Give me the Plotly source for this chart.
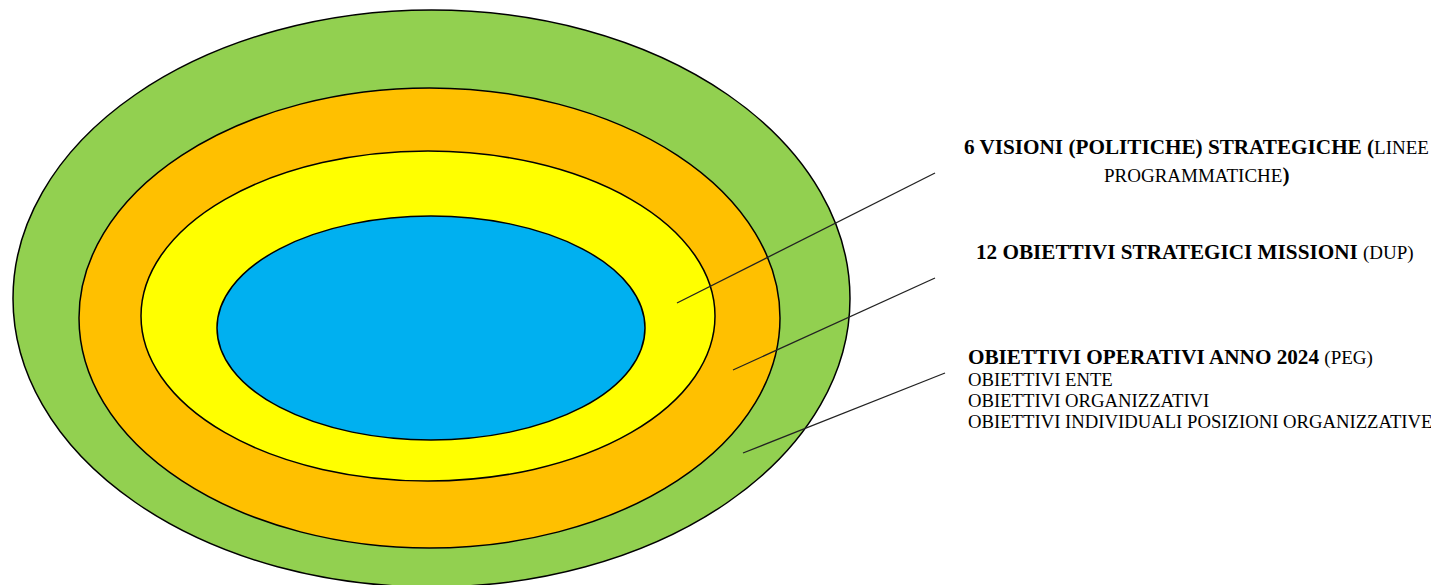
import plotly.graph_objects as go

# Ellipse layers (outer to inner): name, fill colour, bounding box in diagram units
layer_names = ["Visioni strategiche", "Obiettivi strategici", "Obiettivi operativi", "Nucleo"]
layer_colors = ["#92D050", "#FFC000", "#FFFF00", "#00B0F0"]
layer_x0 = [13, 79, 141, 217]
layer_x1 = [850, 780, 715, 645]
layer_y0 = [10, 88, 151, 216]
layer_y1 = [587, 548, 481, 440]

# Leader lines (start inside ellipse, end near label)
line_x0 = [677, 733, 743]
line_y0 = [303, 370, 453]
line_x1 = [935, 935, 945]
line_y1 = [173, 278, 373]

# Labels
label_texts = [
    "<b>6 VISIONI (POLITICHE) STRATEGICHE (</b><span style='font-size:19px'>LINEE</span>",
    "<span style='font-size:19px'>PROGRAMMATICHE</span><b>)</b>",
    "<b>12 OBIETTIVI STRATEGICI MISSIONI</b> <span style='font-size:19px'>(DUP)</span>",
    "<b>OBIETTIVI OPERATIVI ANNO 2024</b> <span style='font-size:19px'>(PEG)</span>",
    "OBIETTIVI ENTE",
    "OBIETTIVI ORGANIZZATIVI",
    "OBIETTIVI INDIVIDUALI POSIZIONI ORGANIZZATIVE",
]
label_x = [1196, 1196, 1195, 966, 966, 966, 966]
label_y = [147, 175, 252, 357, 379, 400, 421]
label_anchor = ["center", "center", "center", "left", "left", "left", "left"]
label_size = [21.2, 21.2, 21.2, 21.2, 18.7, 18.7, 18.7]

# page body has an 8px margin: shift the visible window to compensate
PAGE_OFFSET = 8
W, H = 1439, 585

fig = go.Figure()
fig.add_trace(go.Scatter(x=[0, W], y=[0, H], mode="markers",
                         marker=dict(opacity=0), hoverinfo="skip", showlegend=False))

for name, c, x0, x1, y0, y1 in zip(layer_names, layer_colors, layer_x0, layer_x1, layer_y0, layer_y1):
    fig.add_shape(type="circle", xref="x", yref="y", x0=x0, x1=x1, y0=y0, y1=y1,
                  fillcolor=c, line=dict(color="black", width=1.5), layer="above", name=name)

for x0, y0, x1, y1 in zip(line_x0, line_y0, line_x1, line_y1):
    fig.add_shape(type="line", xref="x", yref="y", x0=x0, y0=y0, x1=x1, y1=y1,
                  line=dict(color="#222222", width=1.3), layer="above")

for t, x, y, a, s in zip(label_texts, label_x, label_y, label_anchor, label_size):
    fig.add_annotation(x=x, y=y, xref="x", yref="y", text=t, showarrow=False,
                       xanchor=a, yanchor="middle", align=a,
                       font=dict(family="Liberation Serif", size=s, color="black"))

fig.update_layout(
    width=W - PAGE_OFFSET, height=H - PAGE_OFFSET,
    margin=dict(l=0, r=0, t=0, b=0),
    paper_bgcolor="white", plot_bgcolor="white",
    xaxis=dict(range=[PAGE_OFFSET, W], visible=False, fixedrange=True),
    yaxis=dict(range=[H, PAGE_OFFSET], visible=False, fixedrange=True),
    showlegend=False,
)

fig.write_html("out.html")
